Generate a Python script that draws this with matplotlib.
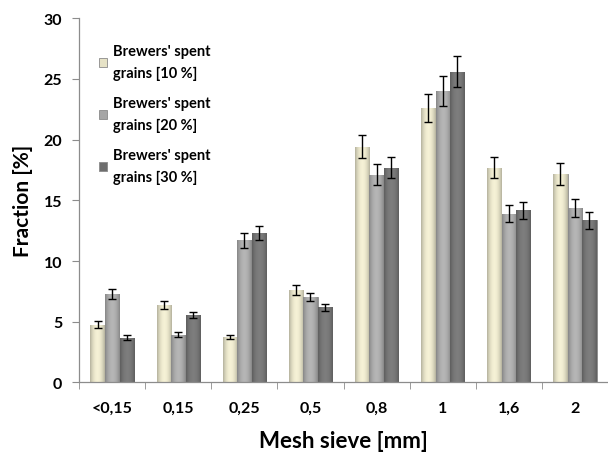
import matplotlib
matplotlib.use("Agg")
import matplotlib.pyplot as plt
import numpy as np
from matplotlib.colors import to_rgb

plt.rcParams['font.family'] = ['Lato', 'DejaVu Sans']

sieves = ['<0,15', '0,15', '0,25', '0,5', '0,8', '1', '1,6', '2']
series = ["Brewers' spent\ngrains [10 %]",
          "Brewers' spent\ngrains [20 %]",
          "Brewers' spent\ngrains [30 %]"]

bsg10 = [4.75, 6.4, 3.75, 7.6, 19.4, 22.6, 17.7, 17.2]
bsg20 = [7.3, 3.95, 11.7, 7.05, 17.1, 24.0, 13.9, 14.4]
bsg30 = [3.7, 5.55, 12.3, 6.2, 17.7, 25.6, 14.2, 13.35]

err10 = [0.3, 0.35, 0.2, 0.4, 0.95, 1.15, 0.85, 0.9]
err20 = [0.4, 0.2, 0.6, 0.35, 0.85, 1.2, 0.7, 0.75]
err30 = [0.2, 0.25, 0.6, 0.3, 0.85, 1.25, 0.7, 0.7]

colors = ['#e6e2c6', '#a6a6a6', '#6e6e6e']

fig = plt.figure(figsize=(6.08, 4.56), dpi=100)
ax = fig.add_axes([0.13, 0.159, 0.87, 0.799])

x = np.arange(len(sieves))
w = 0.215
offsets = [-0.22, 0.0, 0.22]
values = [bsg10, bsg20, bsg30]
errors = [err10, err20, err30]

# horizontal shading so the columns look rounded
prof = np.linspace(-1, 1, 64)
shade = 1.0 - 0.28 * prof ** 2

for vals, errs, off, col, lab in zip(values, errors, offsets, colors, series):
    bars = ax.bar(x + off, vals, width=w, color=col, edgecolor='#8a8a8a',
                  linewidth=0.6, label=lab, zorder=2)
    base = np.array(to_rgb(col))
    grad = np.clip(shade[None, :, None] * base[None, None, :] + 0.06, 0, 1)
    for b in bars:
        x0, y0 = b.get_x(), b.get_y()
        im = ax.imshow(grad, extent=[x0, x0 + b.get_width(), y0, y0 + b.get_height()],
                       aspect='auto', zorder=2.5, interpolation='bilinear')
        im.set_clip_path(b)
    ax.errorbar(x + off, vals, yerr=errs, fmt='none', ecolor='black',
                elinewidth=1.0, capsize=3, capthick=1.0, zorder=3)

ax.set_xlim(-0.5, len(sieves) - 0.5)
ax.set_ylim(0, 30)
ax.set_yticks(np.arange(0, 31, 5))
ax.set_xticks(x)
ax.set_xticklabels(sieves)
ax.set_xticks(np.arange(-0.5, len(sieves)), minor=True)
ax.tick_params(axis='x', which='major', length=0, pad=13)
ax.tick_params(axis='x', which='minor', length=5, color='#8c8c8c')
ax.tick_params(axis='y', length=5, color='#8c8c8c', pad=7)
for t in ax.get_xticklabels() + ax.get_yticklabels():
    t.set_fontweight('bold')
    t.set_fontsize(11.5)

for s in ['top', 'right']:
    ax.spines[s].set_visible(False)
for s in ['left', 'bottom']:
    ax.spines[s].set_color('#8c8c8c')
    ax.spines[s].set_linewidth(0.9)

ax.set_ylabel('Fraction [%]', fontsize=15, fontweight='bold', labelpad=8)
ax.set_xlabel('Mesh sieve [mm]', fontsize=16, fontweight='bold', labelpad=11)

leg = ax.legend(loc='upper left', bbox_to_anchor=(0.012, 0.965), frameon=False,
                prop={'weight': 'bold', 'size': 10.5}, handlelength=0.6,
                handleheight=0.6, handletextpad=0.4, labelspacing=1.1)
for t in leg.get_texts():
    t.set_linespacing(1.7)

fig.savefig('out.png', dpi=100)
